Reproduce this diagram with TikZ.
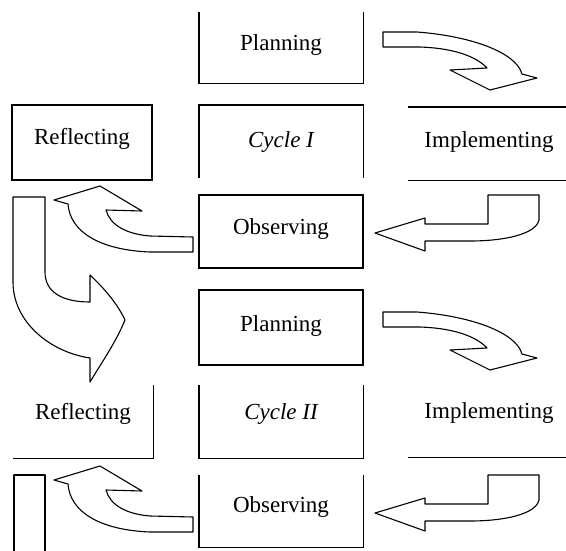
\documentclass[tikz,border=0pt]{standalone}
\usepackage{fontspec}
\setmainfont{Liberation Serif}
\begin{document}
\begin{tikzpicture}[x=1pt,y=-1pt,
  frame/.style={line width=1.4pt},
  boxshape/.style={rectangle, inner sep=0pt, minimum width=164pt, minimum height=73pt},
  lbl/.style={font=\fontsize{23}{26}\selectfont, inner sep=0pt},
  blockarrow/.style={draw=black, line width=1.1pt, fill=white, line join=round}]
\useasboundingbox (0,0) rectangle (566,550);

% ---------- Cycle I boxes ----------
\node[boxshape, minimum height=71pt] (plan1) at (281,47.5) {};
\draw[frame] (plan1.north west) -- (plan1.south west) -- (plan1.south east) -- (plan1.north east);
\node[lbl] (tplan1) at ([yshift=3pt]plan1.center) {Planning};

\node[boxshape, minimum width=140pt, minimum height=75pt, draw, frame] (refl1) at (82,142.5) {};
\node[lbl] (trefl1) at ([yshift=4pt]refl1.center) {Reflecting};

\node[boxshape] (cyc1) at (281,141.5) {};
\draw[frame] (cyc1.south west) -- (cyc1.north west) -- (cyc1.north east) -- (cyc1.south east);
\node[lbl] (tcyc1) at (cyc1.center) {\itshape Cycle I};

\node[boxshape, minimum width=162pt] (impl1) at (489,143.5) {};
\draw[frame] (impl1.north west) -- (impl1.north east);
\draw[frame] (impl1.south west) -- (impl1.south east);
\node[lbl] (timpl1) at ([yshift=2pt]impl1.center) {Implementing};

\node[boxshape, draw, frame] (obs1) at (281,231.5) {};
\node[lbl] (tobs1) at ([yshift=3pt]obs1.center) {Observing};

% ---------- Cycle II boxes ----------
\node[boxshape, minimum height=75pt, draw, frame] (plan2) at (281,327.5) {};
\node[lbl] (tplan2) at ([yshift=2pt]plan2.center) {Planning};

\node[boxshape, minimum width=140pt] (refl2) at (83,421.5) {};
\draw[frame] (refl2.north east) -- (refl2.south east) -- (refl2.south west);
\node[lbl] (trefl2) at ([yshift=8pt]refl2.center) {Reflecting};

\node[boxshape] (cyc2) at (281,421.5) {};
\draw[frame] (cyc2.north west) -- (cyc2.south west) -- (cyc2.south east) -- (cyc2.north east);
\node[lbl] (tcyc2) at ([yshift=8pt]cyc2.center) {\itshape Cycle II};

\node[boxshape, minimum width=162pt] (impl2) at (489,420.5) {};
\draw[frame] (impl2.south west) -- (impl2.south east);
\node[lbl] (timpl2) at ([yshift=8pt]impl2.center) {Implementing};

\node[boxshape, minimum height=72pt] (obs2) at (281,511) {};
\draw[frame] (obs2.north west) -- (obs2.south west) -- (obs2.south east) -- (obs2.north east);
\node[lbl] (tobs2) at ([yshift=4pt]obs2.center) {Observing};

% ---------- block arrows, cycle I and II ----------
\foreach \dy in {0,280}{
\begin{scope}[shift={(0,\dy)}]
  % Planning -> Implementing
  \draw[blockarrow] (383,32) -- (417,32) .. controls (470,36) and (516,52) .. (522,74)
     -- (537,78) -- (490,90) -- (450,70) -- (487,68)
     .. controls (475,55) and (450,48) .. (420,47) -- (383,47) -- cycle;
  % Implementing -> Observing
  \draw[blockarrow] (375,233) -- (425,218) -- (425,224) -- (488,224) -- (488,195)
     -- (539,195) -- (539,220) .. controls (536,234) and (505,241) .. (470,241)
     -- (425,241) -- (425,251) -- cycle;
  % Observing -> Reflecting
  \draw[blockarrow] (193,237) -- (150,236) .. controls (126,234) and (110,225) .. (106,210)
     -- (142,211) -- (100,186) -- (54,200) -- (68,204)
     .. controls (70,232) and (100,250) .. (150,252) -- (193,252) -- cycle;
\end{scope}
}

% Reflecting I -> Planning II
\draw[blockarrow] (13,197) -- (45,197) -- (45,272) .. controls (45,292) and (62,302) .. (90,302)
   -- (90,275) .. controls (106,290) and (118,305) .. (125,320)
   .. controls (116,342) and (102,362) .. (90,382) -- (90,358)
   .. controls (50,352) and (13,322) .. (13,282) -- cycle;

% Reflecting II -> next cycle (cut off)
\draw[blockarrow, fill=none] (14,556) -- (14,475) -- (45,475) -- (45,556);
\end{tikzpicture}
\end{document}
